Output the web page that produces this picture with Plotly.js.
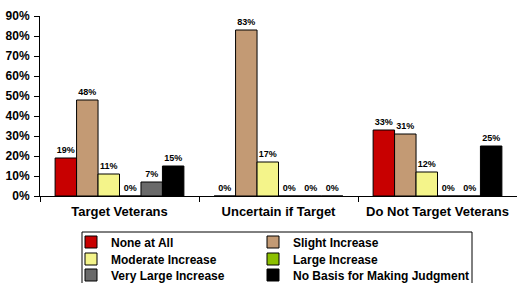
<!DOCTYPE html>
<html><head><meta charset="utf-8">
<script src="https://cdn.plot.ly/plotly-3.0.1.min.js"></script>
<style>html,body{margin:0;padding:0;background:#fff}#c{width:517px;height:283px}</style>
</head><body><div id="c"></div>
<script>
const categories = ["Target Veterans", "Uncertain if Target", "Do Not Target Veterans"];
const seriesNames = ["None at All", "Slight Increase", "Moderate Increase", "Large Increase", "Very Large Increase", "No Basis for Making Judgment"];
const noneAtAll = [19, 0, 33];
const slightIncrease = [48, 83, 31];
const moderateIncrease = [11, 17, 12];
const largeIncrease = [0, 0, 0];
const veryLargeIncrease = [7, 0, 0];
const noBasis = [15, 0, 25];
const yTickVals = [0,10,20,30,40,50,60,70,80,90];
const yTickText = ["0%","10%","20%","30%","40%","50%","60%","70%","80%","90%"];

const seriesValues = [noneAtAll, slightIncrease, moderateIncrease, largeIncrease, veryLargeIncrease, noBasis];
const colors = ["#c80000", "#c39a74", "#f4f48a", "#8cc000", "#6a6a6a", "#000000"];
const legendIds = ["legend", "legend2", "legend3", "legend4", "legend5", "legend6"];
const FONT = "Arial, 'Liberation Sans', sans-serif";

const traces = seriesNames.map((n, i) => ({
  type: "bar",
  name: n,
  x: categories,
  y: seriesValues[i],
  text: seriesValues[i].map(v => v + "%"),
  textposition: "outside",
  cliponaxis: false,
  legend: legendIds[i],
  textfont: {family: FONT, size: 9, color: "#000", weight: "bold"},
  marker: {color: colors[i], line: {color: "#000", width: 1}}
}));

function legendCell(xPix, yPix) {
  return {
    orientation: "h",
    x: (xPix - 40) / 477, xanchor: "left",
    y: (196 - yPix) / 180, yanchor: "middle",
    bgcolor: "rgba(0,0,0,0)", borderwidth: 0,
    font: {family: FONT, size: 12, weight: "bold"},
    itemwidth: 30
  };
}

const layout = {
  width: 517, height: 283,
  margin: {l: 40, r: 0, t: 16, b: 87, autoexpand: false},
  paper_bgcolor: "#fff", plot_bgcolor: "#fff",
  font: {family: FONT, color: "#000"},
  barmode: "group",
  bargap: 0.19,
  bargroupgap: 0,
  showlegend: true,
  xaxis: {
    showline: true, linecolor: "#000", linewidth: 1,
    ticks: "outside", tickson: "boundaries", ticklen: 5, tickcolor: "#000",
    ticklabelstandoff: 3,
    tickfont: {family: FONT, size: 13, weight: "bold"},
    showgrid: false, zeroline: false
  },
  yaxis: {
    range: [0, 90], tickvals: yTickVals, ticktext: yTickText,
    showline: true, linecolor: "#000", linewidth: 1,
    ticks: "outside", ticklen: 5, tickcolor: "#000",
    ticklabelstandoff: 2,
    tickfont: {family: FONT, size: 12, weight: "bold"},
    showgrid: false, zeroline: false
  },
  legend: legendCell(71, 242),
  legend2: legendCell(253, 242),
  legend3: legendCell(71, 259),
  legend4: legendCell(253, 259),
  legend5: legendCell(71, 275),
  legend6: legendCell(253, 275),
  shapes: [{
    type: "rect", xref: "paper", yref: "paper",
    x0: (82 - 40) / 477, x1: (472 - 40) / 477,
    y0: (196 - 232) / 180, y1: (196 - 290) / 180,
    line: {color: "#000", width: 1}, fillcolor: "rgba(0,0,0,0)", layer: "below"
  }]
};
Plotly.newPlot("c", traces, layout, {displayModeBar: false, staticPlot: true});
</script></body></html>
